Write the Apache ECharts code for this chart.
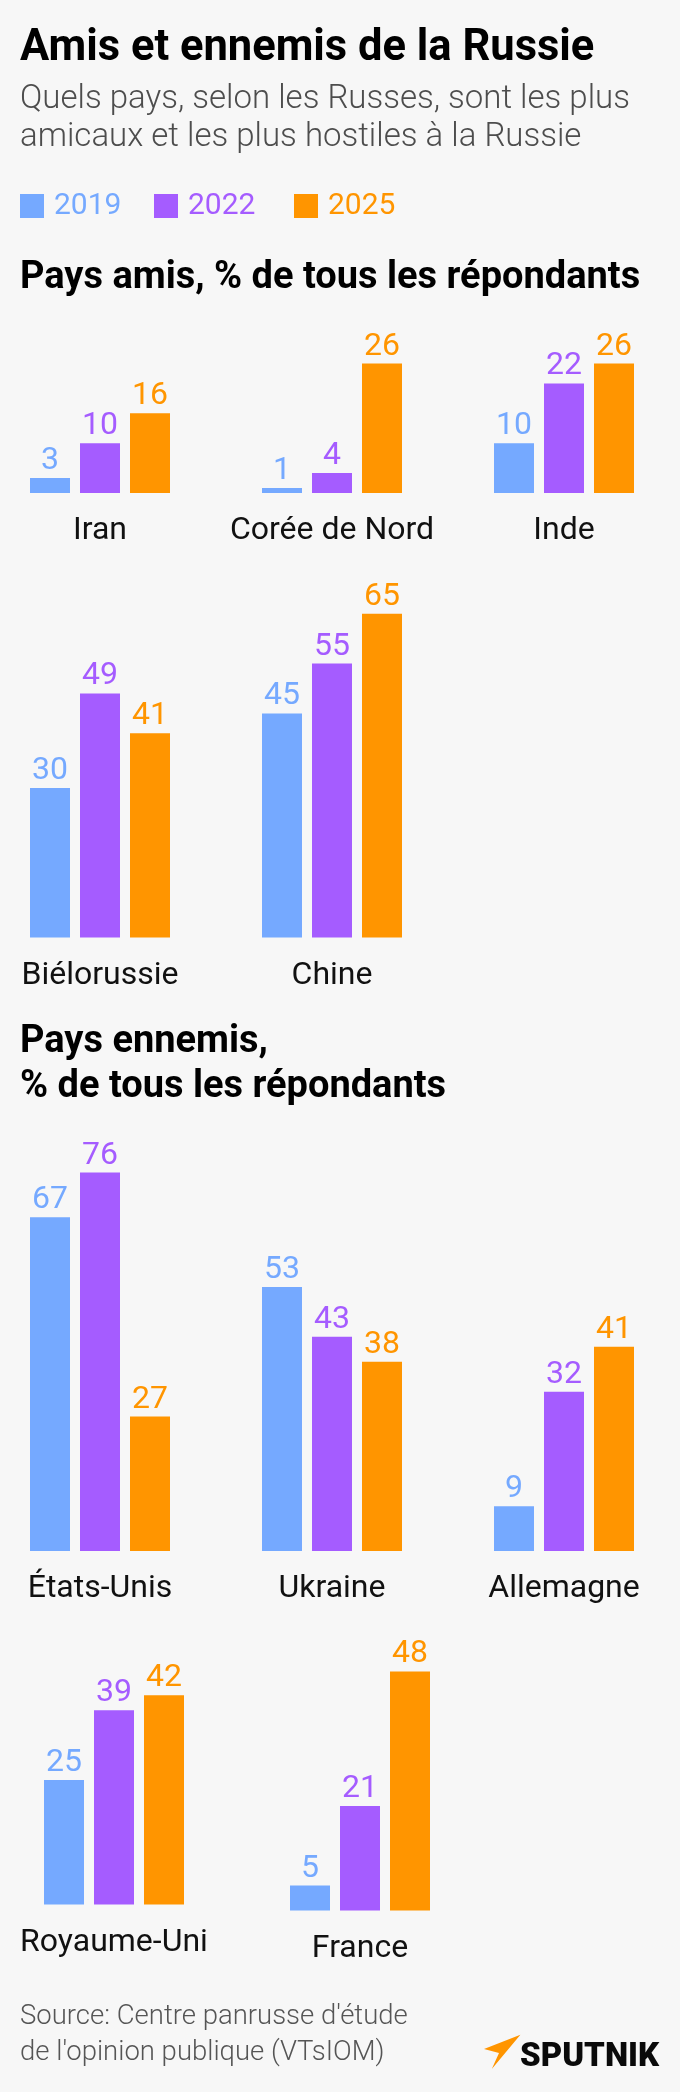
<!DOCTYPE html>
<html lang="fr">
<head>
<meta charset="utf-8" />
<title>Amis et ennemis de la Russie</title>
<script src="https://cdn.jsdelivr.net/npm/echarts@6/dist/echarts.min.js"></script>
<style>
	html, body { margin: 0; padding: 0; background: #f7f7f7; }
	#chart { width: 680px; height: 2092px; }
</style>
</head>
<body>
	<div id="chart"></div>
<script type="text/javascript">
	// données
	var years = ['2019', '2022', '2025'];
	var countries = ['Iran', 'Corée de Nord', 'Inde', 'Biélorussie', 'Chine', 'États-Unis', 'Ukraine', 'Allemagne', 'Royaume-Uni', 'France'];
	var values2019 = [3, 1, 10, 30, 45, 67, 53, 9, 25, 5];
	var values2022 = [10, 4, 22, 49, 55, 76, 43, 32, 39, 21];
	var values2025 = [16, 26, 26, 41, 65, 27, 38, 41, 42, 48];

	var colors = ['#75a9ff', '#a55cff', '#ff9500'];
	var yearValues = [values2019, values2022, values2025];

	// position de chaque petit graphique
	var panelLeft = [25, 257, 489, 25, 257, 25, 257, 489, 39, 285];
	var panelBase = [493, 493, 493, 937.5, 937.5, 1551, 1551, 1551, 1904.5, 1910.5];
	var yMax = 80;
	var panelHeight = 398.4;
	var font = 'Roboto';

	var grids = [], xAxes = [], yAxes = [], series = [];
	countries.forEach(function (name, i) {
		grids.push({ left: panelLeft[i], top: panelBase[i] - panelHeight, width: 150, height: panelHeight });
		xAxes.push({
			type: 'category', gridIndex: i, data: [name],
			axisLine: { show: false }, axisTick: { show: false },
			axisLabel: { interval: 0, margin: 22, color: '#111', fontSize: 32, fontFamily: font }
		});
		yAxes.push({ type: 'value', gridIndex: i, min: 0, max: yMax, show: false });
		years.forEach(function (year, k) {
			series.push({
				name: year, type: 'bar', xAxisIndex: i, yAxisIndex: i,
				data: [yearValues[k][i]],
				barWidth: 40, barGap: '25%',
				itemStyle: { color: colors[k] },
				label: { show: true, position: 'top', distance: 1, color: colors[k], fontSize: 32, fontFamily: font }
			});
		});
	});

	var legendLeft = [20, 154, 294];
	var legends = years.map(function (year, k) {
		return {
			left: legendLeft[k], top: 191, padding: 0, icon: 'rect', itemWidth: 24, itemHeight: 24, itemGap: 0,
			selectedMode: false,
			data: [{ name: year, textStyle: { color: colors[k] } }],
			textStyle: { fontSize: 30, fontFamily: font, padding: [0, 0, 0, 5] }
		};
	});

	function heading(text, top, size, weight, color, lineHeight) {
		return {
			text: text, left: 20, top: top, padding: 0,
			textStyle: { color: color, fontSize: size, fontWeight: weight, fontFamily: font, lineHeight: lineHeight }
		};
	}

	var chart = echarts.init(document.getElementById('chart'));
	chart.setOption({
		animation: false,
		backgroundColor: '#f7f7f7',
		title: [
			heading('Amis et ennemis de la Russie', 26, 43.5, 700, '#000', 46),
			heading('Quels pays, selon les Russes, sont les plus\namicaux et les plus hostiles à la Russie', 81, 33, 300, '#4d4d4d', 38),
			heading('Pays amis, % de tous les répondants', 256, 38, 700, '#000', 44),
			heading('Pays ennemis,\n% de tous les répondants', 1020, 38, 700, '#000', 45),
			heading('Source: Centre panrusse d\'étude\nde l\'opinion publique (VTsIOM)', 1999, 27.5, 300, '#555', 36),
			{
				text: 'SPUTNIK', left: 520, top: 2040, padding: 0,
				textStyle: { color: '#0a0a0a', fontSize: 33, fontWeight: 900, fontFamily: font, lineHeight: 36 }
			}
		],
		legend: legends,
		grid: grids,
		xAxis: xAxes,
		yAxis: yAxes,
		series: series,
		graphic: [{
			// logo
			type: 'polygon',
			shape: { points: [[520.4, 2034.7], [484, 2049], [499, 2053], [491.8, 2069]] },
			style: { fill: '#ff9500' }
		}]
	});
</script>
</body>
</html>
